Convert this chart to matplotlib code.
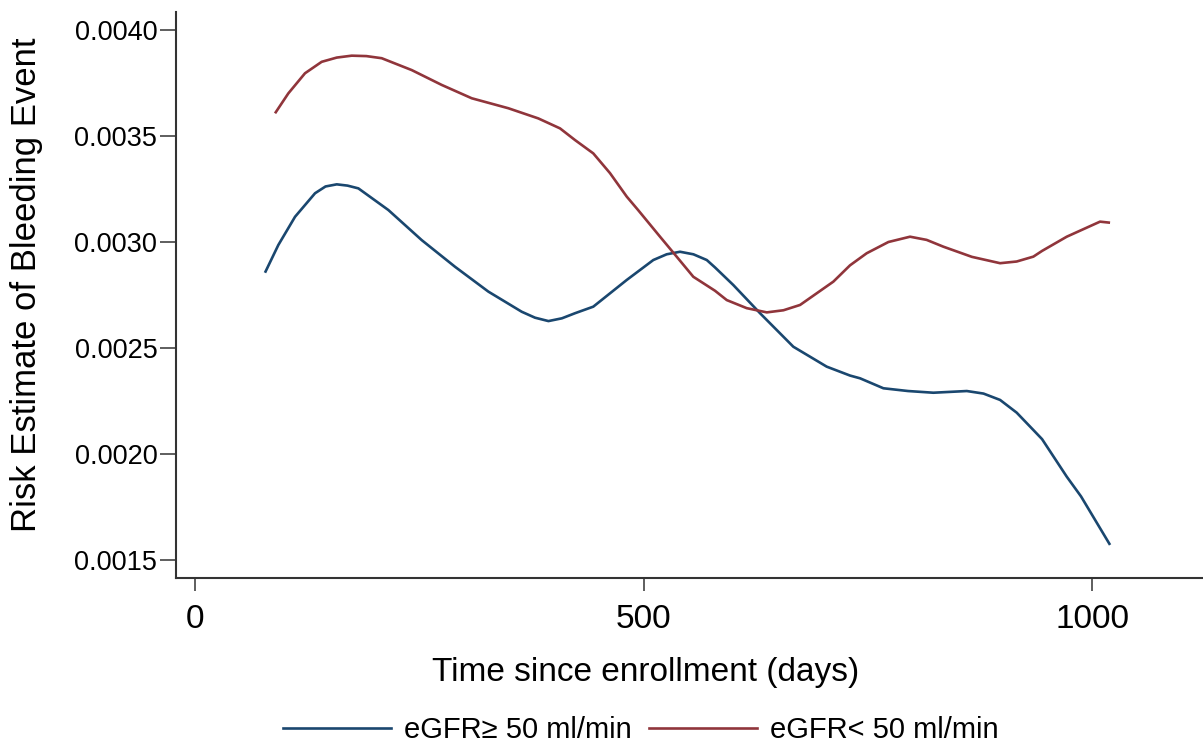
import matplotlib
matplotlib.use("Agg")
import matplotlib.pyplot as plt
from matplotlib.lines import Line2D

plt.rcParams['font.family'] = ['Liberation Sans', 'DejaVu Sans']

# Data
days_high = [78.0, 92.9, 111.5, 133.8, 145.5, 158.0, 170.0, 182.1, 215.5, 252.7, 289.9,
             327.0, 364.2, 379.0, 394.0, 409.0, 423.6, 444.0, 481.3, 510.9, 525.8, 540.7,
             555.6, 570.5, 579.7, 600.1, 629.9, 667.0, 704.2, 730.2, 741.4, 767.4, 794.9,
             823.1, 860.4, 879.0, 897.5, 916.0, 934.6, 944.3, 971.8, 987.7, 1020.1]
risk_high = [0.002855, 0.002986, 0.003119, 0.003230, 0.003262, 0.003272, 0.003266,
             0.003253, 0.003151, 0.003009, 0.002883, 0.002766, 0.002671, 0.002643,
             0.002627, 0.002640, 0.002664, 0.002695, 0.002821, 0.002915, 0.002942,
             0.002954, 0.002942, 0.002915, 0.002880, 0.002797, 0.002664, 0.002506,
             0.002412, 0.002370, 0.002357, 0.002310, 0.002297, 0.002289, 0.002297,
             0.002285, 0.002255, 0.002195, 0.002113, 0.002070, 0.001893, 0.001800,
             0.001571]

days_low = [89.2, 104.0, 122.6, 141.2, 158.0, 174.7, 191.0, 208.1, 241.6, 275.0, 308.5,
            349.3, 382.7, 406.9, 423.6, 444.0, 462.6, 481.3, 493.9, 518.4, 537.3, 555.5,
            579.7, 592.8, 615.0, 637.4, 656.0, 674.5, 711.6, 730.2, 748.8, 773.0, 797.1,
            815.6, 834.2, 866.0, 897.5, 916.0, 934.6, 944.3, 971.8, 1008.9, 1020.1]
risk_low = [0.003607, 0.003701, 0.003796, 0.003850, 0.003870, 0.003879, 0.003877,
            0.003867, 0.003811, 0.003741, 0.003678, 0.003631, 0.003583, 0.003536,
            0.003481, 0.003418, 0.003325, 0.003214, 0.003151, 0.003025, 0.002929,
            0.002836, 0.002770, 0.002726, 0.002688, 0.002668, 0.002678, 0.002703,
            0.002813, 0.002890, 0.002947, 0.003000, 0.003025, 0.003010, 0.002978,
            0.002930, 0.002900, 0.002908, 0.002931, 0.002958, 0.003025, 0.003096,
            0.003091]

series_labels = ["eGFR\u2265 50 ml/min", "eGFR< 50 ml/min"]
x_ticks = [0, 500, 1000]
y_ticks = [0.0015, 0.0020, 0.0025, 0.0030, 0.0035, 0.0040]
y_ticklabels = ["0.0015", "0.0020", "0.0025", "0.0030", "0.0035", "0.0040"]

BLUE = "#1a476f"
RED = "#90353b"

W, H = 1203, 745
fig = plt.figure(figsize=(W / 100, H / 100), dpi=100)
ax_l, ax_r, ax_t, ax_b = 176, 1203, 12, 578
ax = fig.add_axes([ax_l / W, 1 - ax_b / H, (ax_r - ax_l) / W, (ax_b - ax_t) / H])

ax.plot(days_high, risk_high, color=BLUE, lw=1.9, solid_joinstyle='round', solid_capstyle='butt')
ax.plot(days_low, risk_low, color=RED, lw=1.9, solid_joinstyle='round', solid_capstyle='butt')

ax.set_xlim(-21.2, 1123.7)
ax.set_ylim(0.001415, 0.004085)

for s in ['top', 'right']:
    ax.spines[s].set_visible(False)
for s in ['left', 'bottom']:
    ax.spines[s].set_linewidth(1.5)
    ax.spines[s].set_color('#333333')

ax.set_xticks(x_ticks)
ax.set_xticklabels([str(t) for t in x_ticks])
ax.set_yticks(y_ticks)
ax.set_yticklabels(y_ticklabels)
ax.tick_params(axis='x', direction='out', length=9.5, width=1.1, color='#333333',
               labelsize=24, pad=9)
ax.tick_params(axis='y', direction='out', length=11.5, width=1.1, color='#333333',
               labelsize=19.5, pad=2)

ax.set_xlabel("Time since enrollment (days)", fontsize=24)
ax.xaxis.label.set_va('center')
ax.xaxis.set_label_coords((646 - ax_l) / (ax_r - ax_l), (ax_b - 673) / (ax_b - ax_t))
ax.set_ylabel("Risk Estimate of Bleeding Event", fontsize=25)
ax.yaxis.label.set_va('center')
ax.yaxis.set_label_coords((27 - ax_l) / (ax_r - ax_l), (ax_b - 285) / (ax_b - ax_t))

handles = [Line2D([], [], color=BLUE, lw=1.9), Line2D([], [], color=RED, lw=1.9)]
fig.legend(handles, series_labels, loc='center', bbox_to_anchor=(641 / W, 1 - 730 / H),
           ncol=2, frameon=False, fontsize=21, handlelength=3.7, handletextpad=0.45,
           columnspacing=0.6)

fig.savefig("out.png", dpi=100)
